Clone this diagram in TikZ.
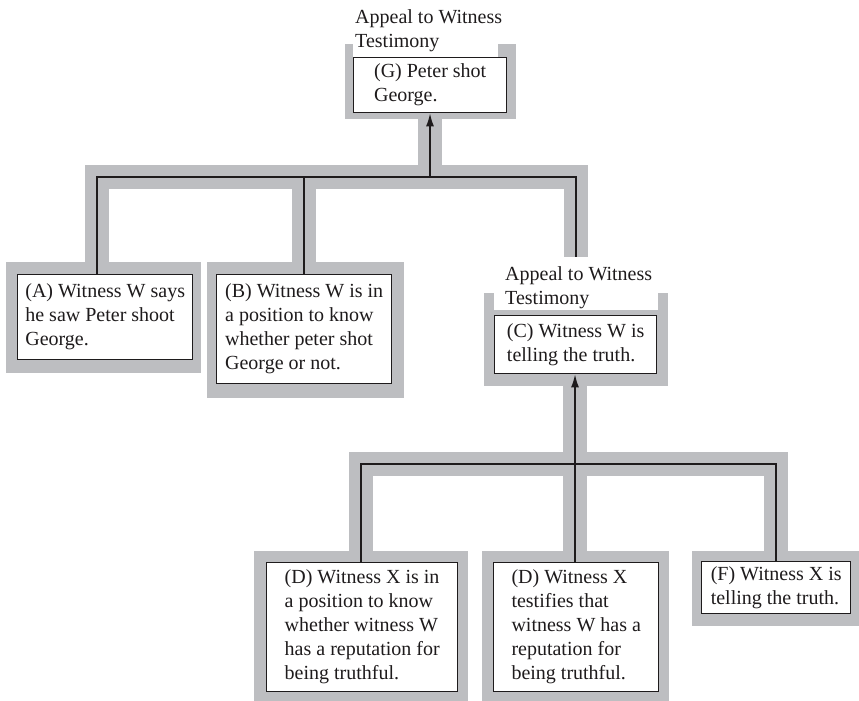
\documentclass[tikz,border=0pt]{standalone}
\usepackage{fontspec}
\setmainfont{Liberation Serif}
\usetikzlibrary{arrows.meta}
\pgfdeclarelayer{background}
\pgfsetlayers{background,main}
\definecolor{band}{RGB}{189,190,193}
\definecolor{ink}{RGB}{30,27,28}
\tikzset{
  claim/.style={draw=ink, line width=1.4pt, fill=white, align=left,
    anchor=north west, inner sep=0pt, text=ink,
    font=\fontsize{20}{24}\selectfont},
  scheme/.style={anchor=north west, inner sep=0pt, align=left, text=ink,
    font=\fontsize{20}{24}\selectfont},
  conn/.style={draw=ink, line width=1.4pt},
  greyband/.style={draw=band, line width=24pt, line cap=butt, line join=miter},
  tip/.style={-{Latex[length=13pt,width=8pt]}},
}
\begin{document}
\begin{tikzpicture}[x=1pt, y=-1pt]
\useasboundingbox (0,0) rectangle (859,701);

% claims
\node[claim, minimum width=153pt, minimum height=55pt] (G) at (353,57)
  {(G) Peter shot\\George.};
\node[claim, minimum width=175pt, minimum height=85pt] (A) at (17,274)
  {(A) Witness W says\\he saw Peter shoot\\George.};
\node[claim, minimum width=175pt, minimum height=109pt] (B) at (216,274)
  {(B) Witness W is in\\a position to know\\whether peter shot\\George or not.};
\node[claim, minimum width=162pt, minimum height=58pt] (C) at (494,315)
  {(C) Witness W is\\telling the truth.};
\node[claim, minimum width=191pt, minimum height=129pt] (D1) at (266,562)
  {(D) Witness X is in\\a position to know\\whether witness W\\has a reputation for\\being truthful.};
\node[claim, minimum width=165pt, minimum height=129pt] (D2) at (493,562)
  {(D) Witness X\\testifies that\\witness W has a\\reputation for\\being truthful.};
\node[claim, minimum width=149pt, minimum height=52pt] (F) at (701,561)
  {(F) Witness X is\\telling the truth.};

% scheme labels
\node[scheme] (Glab) at (355,9) {Appeal to Witness\\Testimony};
\node[scheme] (Clab) at (505,266) {Appeal to Witness\\Testimony};

% junction points
\coordinate (a1) at (97,177);
\coordinate (b1) at (304,177);
\coordinate (g1) at (430,177);
\coordinate (c1) at (576,177);
\coordinate (c2) at (576,257);
\coordinate (d1) at (361,464);
\coordinate (d2) at (575,464);
\coordinate (f1) at (776,464);

\begin{pgfonlayer}{background}
  % grey frames round the claims
  \fill[band] ([shift={(-8,-13)}]G.north west) rectangle ([shift={(9,6)}]G.south east);
  \fill[band] ([shift={(-11,-12)}]A.north west) rectangle ([shift={(8,13)}]A.south east);
  \fill[band] ([shift={(-9,-12)}]B.north west) rectangle ([shift={(12,14)}]B.south east);
  \fill[band] ([shift={(-10,-22)}]C.north west) rectangle ([shift={(11,12)}]C.south east);
  \fill[band] ([shift={(-12,-11)}]D1.north west) rectangle ([shift={(10,10)}]D1.south east);
  \fill[band] ([shift={(-11,-11)}]D2.north west) rectangle ([shift={(10,10)}]D2.south east);
  \fill[band] ([shift={(-9,-10)}]F.north west) rectangle ([shift={(9,12)}]F.south east);
  % grey bands under the connectors
  \draw[greyband] (A.north -| a1) |- (c1) -- (c2);
  \draw[greyband] (B.north -| b1) -- (b1);
  \draw[greyband] (g1) -- (G.south -| g1);
  \draw[greyband] (D1.north -| d1) |- (f1) -- (F.north -| f1);
  \draw[greyband] (D2.north -| d2) -- (C.south -| d2);
  % openings for the scheme labels
  \fill[white] (353,44) rectangle (498,57);
  \fill[white] (494,293) rectangle (658,310);
\end{pgfonlayer}

% connectors
\draw[conn] (A.north -| a1) |- (c1) -- (c2);
\draw[conn] (B.north -| b1) -- (b1);
\draw[conn, tip] (g1) -- (G.south -| g1);
\draw[conn] (D1.north -| d1) |- (f1) -- (F.north -| f1);
\draw[conn] (D2.north -| d2) -- (d2);
\draw[conn, tip] (d2) -- (C.south -| d2);
\end{tikzpicture}
\end{document}
